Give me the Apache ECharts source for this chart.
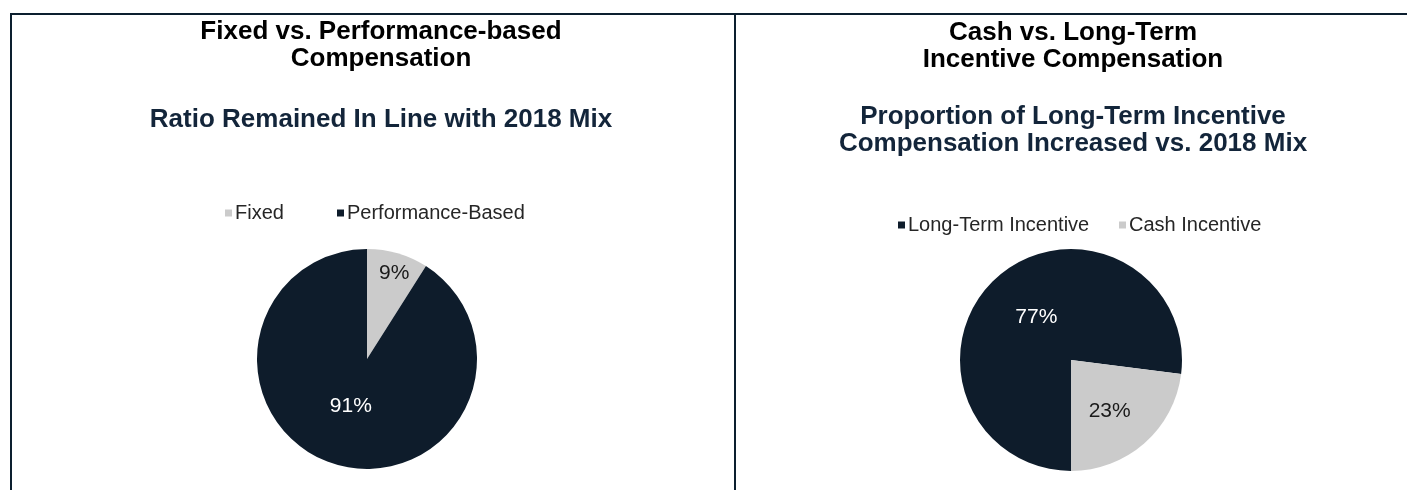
<!DOCTYPE html>
<html>
<head>
<meta charset="utf-8">
<script src="https://cdn.jsdelivr.net/npm/echarts@6/dist/echarts.min.js"></script>
<style>
html,body{margin:0;padding:0;background:#fff;}
#chart{width:1407px;height:490px;}
</style>
</head>
<body>
<div id="chart"></div>
<script>
const leftTitle = 'Fixed vs. Performance-based\nCompensation';
const leftSubtitle = 'Ratio Remained In Line with 2018 Mix';
const leftCategories = ['Fixed', 'Performance-Based'];
const leftValues = [9, 91];

const rightTitle = 'Cash vs. Long-Term\nIncentive Compensation';
const rightSubtitle = 'Proportion of Long-Term Incentive\nCompensation Increased vs. 2018 Mix';
const rightCategories = ['Long-Term Incentive', 'Cash Incentive'];
const rightValues = [77, 23];

const DARK = '#0e1c2b';
const LIGHT = '#cbcbcb';
const LINE = '#0c1f2f';
const FONT = '"Liberation Sans", Arial, sans-serif';

const chart = echarts.init(document.getElementById('chart'), null, {renderer: 'canvas'});

function titleBlock(text, x, top, color) {
  return {
    text: text, left: x, top: top, textAlign: 'center',
    padding: 0,
    textStyle: {fontFamily: FONT, fontSize: 26, fontWeight: 'bold', color: color, lineHeight: 27}
  };
}
function legendItem(name, x, y) {
  return {
    data: [name], left: x, top: y, orient: 'horizontal', padding: 0,
    icon: 'rect', itemWidth: 7, itemHeight: 7, itemGap: 0,
    selectedMode: false,
    textStyle: {fontFamily: FONT, fontSize: 20, color: '#262626', padding: [0, 0, 0, -2]}
  };
}

const leftColors = [LIGHT, DARK];
const leftLabelColors = ['#1a1a1a', '#ffffff'];
const rightColors = [DARK, LIGHT];
const rightLabelColors = ['#ffffff', '#1a1a1a'];

const option = {
  backgroundColor: '#ffffff',
  animation: false,
  title: [
    titleBlock(leftTitle, 381, 18, '#000000'),
    titleBlock(leftSubtitle, 381, 106, '#13253a'),
    titleBlock(rightTitle, 1073, 19, '#000000'),
    titleBlock(rightSubtitle, 1073, 103, '#13253a')
  ],
  legend: [
    legendItem(leftCategories[0], 225, 203),
    legendItem(leftCategories[1], 337, 203),
    legendItem(rightCategories[0], 898, 215),
    legendItem(rightCategories[1], 1119, 215)
  ],
  graphic: [
    {type: 'rect', shape: {x: 10, y: 13, width: 1397, height: 2}, style: {fill: LINE}, silent: true},
    {type: 'rect', shape: {x: 10, y: 13, width: 2, height: 477}, style: {fill: LINE}, silent: true},
    {type: 'rect', shape: {x: 734, y: 13, width: 2, height: 477}, style: {fill: LINE}, silent: true}
  ],
  series: [
    {
      type: 'pie',
      center: [367, 359],
      radius: [0, 110],
      startAngle: 90,
      clockwise: true,
      silent: true,
      data: leftCategories.map((n, i) => ({
        name: n, value: leftValues[i],
        itemStyle: {color: leftColors[i]},
        label: {color: leftLabelColors[i]}
      })),
      label: {
        show: true, position: 'inside', formatter: '{c}%',
        fontFamily: FONT, fontSize: 21
      },
      labelLine: {show: false},
      labelLayout: function (p) {
        return p.dataIndex === 0 ? {dx: 11, dy: -30} : {dx: 0, dy: -8};
      }
    },
    {
      type: 'pie',
      center: [1071, 360],
      radius: [0, 111],
      startAngle: 270,
      clockwise: true,
      silent: true,
      data: rightCategories.map((n, i) => ({
        name: n, value: rightValues[i],
        itemStyle: {color: rightColors[i]},
        label: {color: rightLabelColors[i]}
      })),
      label: {
        show: true, position: 'inside', formatter: '{c}%',
        fontFamily: FONT, fontSize: 21
      },
      labelLine: {show: false},
      labelLayout: function (p) {
        return p.dataIndex === 0 ? {dx: 4, dy: 1} : {dx: 0, dy: 7};
      }
    }
  ]
};
chart.setOption(option);
</script>
</body>
</html>
